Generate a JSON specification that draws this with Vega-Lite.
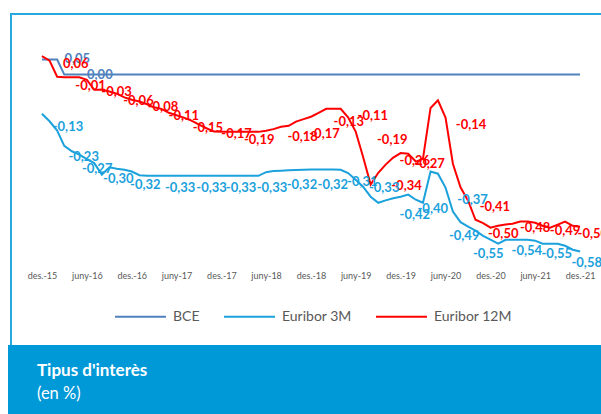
{
  "$schema": "https://vega.github.io/schema/vega-lite/v6.json",
  "padding": {"left": 8, "top": 13, "right": 0, "bottom": 0},
  "spacing": 0,
  "bounds": "flush",
  "config": {
    "font": "Lato",
    "locale": {"number": {"decimal": ",", "thousands": ".", "grouping": [3], "currency": ["", " €"], "minus": "-"}},
    "axis": {"domain": false, "ticks": false, "grid": false, "title": null, "labelFont": "Lato", "labelFontSize": 9, "labelColor": "#595959"},
    "legend": {"orient": "none", "legendX": 103, "legendY": 276, "direction": "horizontal", "symbolType": "stroke", "symbolSize": 2601, "symbolStrokeWidth": 2, "labelFont": "Lato", "labelFontSize": 14, "labelColor": "#595959", "labelOffset": 6, "columnPadding": 20}
  },
  "datasets": {
    "series": [
      {"d": "2015-12-01", "BCE": 0.05, "Euribor 3M": -0.129, "Euribor 12M": 0.061},
      {"d": "2016-01-01", "BCE": 0.05, "Euribor 3M": -0.154, "Euribor 12M": 0.046},
      {"d": "2016-02-01", "BCE": 0.05, "Euribor 3M": -0.185, "Euribor 12M": -0.007},
      {"d": "2016-03-01", "BCE": 0, "Euribor 3M": -0.235, "Euribor 12M": -0.009},
      {"d": "2016-04-01", "BCE": 0, "Euribor 3M": -0.253, "Euribor 12M": -0.009},
      {"d": "2016-05-01", "BCE": 0, "Euribor 3M": -0.264, "Euribor 12M": -0.009},
      {"d": "2016-06-01", "BCE": 0, "Euribor 3M": -0.279, "Euribor 12M": -0.017},
      {"d": "2016-07-01", "BCE": 0, "Euribor 3M": -0.292, "Euribor 12M": -0.05},
      {"d": "2016-08-01", "BCE": 0, "Euribor 3M": -0.33, "Euribor 12M": -0.05},
      {"d": "2016-09-01", "BCE": 0, "Euribor 3M": -0.306, "Euribor 12M": -0.056},
      {"d": "2016-10-01", "BCE": 0, "Euribor 3M": -0.311, "Euribor 12M": -0.063},
      {"d": "2016-11-01", "BCE": 0, "Euribor 3M": -0.314, "Euribor 12M": -0.075},
      {"d": "2016-12-01", "BCE": 0, "Euribor 3M": -0.32, "Euribor 12M": -0.083},
      {"d": "2017-01-01", "BCE": 0, "Euribor 3M": -0.332, "Euribor 12M": -0.089},
      {"d": "2017-02-01", "BCE": 0, "Euribor 3M": -0.334, "Euribor 12M": -0.098},
      {"d": "2017-03-01", "BCE": 0, "Euribor 3M": -0.334, "Euribor 12M": -0.108},
      {"d": "2017-04-01", "BCE": 0, "Euribor 3M": -0.334, "Euribor 12M": -0.113},
      {"d": "2017-05-01", "BCE": 0, "Euribor 3M": -0.334, "Euribor 12M": -0.126},
      {"d": "2017-06-01", "BCE": 0, "Euribor 3M": -0.334, "Euribor 12M": -0.134},
      {"d": "2017-07-01", "BCE": 0, "Euribor 3M": -0.334, "Euribor 12M": -0.142},
      {"d": "2017-08-01", "BCE": 0, "Euribor 3M": -0.334, "Euribor 12M": -0.152},
      {"d": "2017-09-01", "BCE": 0, "Euribor 3M": -0.334, "Euribor 12M": -0.165},
      {"d": "2017-10-01", "BCE": 0, "Euribor 3M": -0.334, "Euribor 12M": -0.177},
      {"d": "2017-11-01", "BCE": 0, "Euribor 3M": -0.334, "Euribor 12M": -0.188},
      {"d": "2017-12-01", "BCE": 0, "Euribor 3M": -0.334, "Euribor 12M": -0.189},
      {"d": "2018-01-01", "BCE": 0, "Euribor 3M": -0.334, "Euribor 12M": -0.189},
      {"d": "2018-02-01", "BCE": 0, "Euribor 3M": -0.334, "Euribor 12M": -0.189},
      {"d": "2018-03-01", "BCE": 0, "Euribor 3M": -0.334, "Euribor 12M": -0.189},
      {"d": "2018-04-01", "BCE": 0, "Euribor 3M": -0.334, "Euribor 12M": -0.189},
      {"d": "2018-05-01", "BCE": 0, "Euribor 3M": -0.334, "Euribor 12M": -0.189},
      {"d": "2018-06-01", "BCE": 0, "Euribor 3M": -0.322, "Euribor 12M": -0.185},
      {"d": "2018-07-01", "BCE": 0, "Euribor 3M": -0.318, "Euribor 12M": -0.18},
      {"d": "2018-08-01", "BCE": 0, "Euribor 3M": -0.317, "Euribor 12M": -0.172},
      {"d": "2018-09-01", "BCE": 0, "Euribor 3M": -0.316, "Euribor 12M": -0.169},
      {"d": "2018-10-01", "BCE": 0, "Euribor 3M": -0.315, "Euribor 12M": -0.155},
      {"d": "2018-11-01", "BCE": 0, "Euribor 3M": -0.314, "Euribor 12M": -0.147},
      {"d": "2018-12-01", "BCE": 0, "Euribor 3M": -0.313, "Euribor 12M": -0.139},
      {"d": "2019-01-01", "BCE": 0, "Euribor 3M": -0.313, "Euribor 12M": -0.126},
      {"d": "2019-02-01", "BCE": 0, "Euribor 3M": -0.313, "Euribor 12M": -0.113},
      {"d": "2019-03-01", "BCE": 0, "Euribor 3M": -0.313, "Euribor 12M": -0.113},
      {"d": "2019-04-01", "BCE": 0, "Euribor 3M": -0.314, "Euribor 12M": -0.113},
      {"d": "2019-05-01", "BCE": 0, "Euribor 3M": -0.325, "Euribor 12M": -0.141},
      {"d": "2019-06-01", "BCE": 0, "Euribor 3M": -0.347, "Euribor 12M": -0.188},
      {"d": "2019-07-01", "BCE": 0, "Euribor 3M": -0.37, "Euribor 12M": -0.271},
      {"d": "2019-08-01", "BCE": 0, "Euribor 3M": -0.403, "Euribor 12M": -0.363},
      {"d": "2019-09-01", "BCE": 0, "Euribor 3M": -0.423, "Euribor 12M": -0.324},
      {"d": "2019-10-01", "BCE": 0, "Euribor 3M": -0.415, "Euribor 12M": -0.297},
      {"d": "2019-11-01", "BCE": 0, "Euribor 3M": -0.408, "Euribor 12M": -0.274},
      {"d": "2019-12-01", "BCE": 0, "Euribor 3M": -0.403, "Euribor 12M": -0.259},
      {"d": "2020-01-01", "BCE": 0, "Euribor 3M": -0.396, "Euribor 12M": -0.261},
      {"d": "2020-02-01", "BCE": 0, "Euribor 3M": -0.413, "Euribor 12M": -0.287},
      {"d": "2020-03-01", "BCE": 0, "Euribor 3M": -0.423, "Euribor 12M": -0.278},
      {"d": "2020-04-01", "BCE": 0, "Euribor 3M": -0.32, "Euribor 12M": -0.11},
      {"d": "2020-05-01", "BCE": 0, "Euribor 3M": -0.327, "Euribor 12M": -0.085},
      {"d": "2020-06-01", "BCE": 0, "Euribor 3M": -0.373, "Euribor 12M": -0.142},
      {"d": "2020-07-01", "BCE": 0, "Euribor 3M": -0.452, "Euribor 12M": -0.294},
      {"d": "2020-08-01", "BCE": 0, "Euribor 3M": -0.487, "Euribor 12M": -0.372},
      {"d": "2020-09-01", "BCE": 0, "Euribor 3M": -0.502, "Euribor 12M": -0.416},
      {"d": "2020-10-01", "BCE": 0, "Euribor 3M": -0.515, "Euribor 12M": -0.479},
      {"d": "2020-11-01", "BCE": 0, "Euribor 3M": -0.532, "Euribor 12M": -0.49},
      {"d": "2020-12-01", "BCE": 0, "Euribor 3M": -0.545, "Euribor 12M": -0.505},
      {"d": "2021-01-01", "BCE": 0, "Euribor 3M": -0.558, "Euribor 12M": -0.499},
      {"d": "2021-02-01", "BCE": 0, "Euribor 3M": -0.545, "Euribor 12M": -0.495},
      {"d": "2021-03-01", "BCE": 0, "Euribor 3M": -0.545, "Euribor 12M": -0.492},
      {"d": "2021-04-01", "BCE": 0, "Euribor 3M": -0.545, "Euribor 12M": -0.485},
      {"d": "2021-05-01", "BCE": 0, "Euribor 3M": -0.545, "Euribor 12M": -0.485},
      {"d": "2021-06-01", "BCE": 0, "Euribor 3M": -0.548, "Euribor 12M": -0.489},
      {"d": "2021-07-01", "BCE": 0, "Euribor 3M": -0.558, "Euribor 12M": -0.499},
      {"d": "2021-08-01", "BCE": 0, "Euribor 3M": -0.558, "Euribor 12M": -0.505},
      {"d": "2021-09-01", "BCE": 0, "Euribor 3M": -0.558, "Euribor 12M": -0.495},
      {"d": "2021-10-01", "BCE": 0, "Euribor 3M": -0.565, "Euribor 12M": -0.485},
      {"d": "2021-11-01", "BCE": 0, "Euribor 3M": -0.578, "Euribor 12M": -0.499},
      {"d": "2021-12-01", "BCE": 0, "Euribor 3M": -0.584, "Euribor 12M": -0.502}
    ],
    "labels": [
      {"d": "2016-04-23", "s": "BCE", "v": 0.05},
      {"d": "2016-07-24", "s": "BCE", "v": 0.0},
      {"d": "2016-04-17", "s": "Euribor 12M", "v": 0.06},
      {"d": "2016-06-16", "s": "Euribor 12M", "v": -0.01},
      {"d": "2016-09-30", "s": "Euribor 12M", "v": -0.03},
      {"d": "2016-12-28", "s": "Euribor 12M", "v": -0.06},
      {"d": "2017-04-07", "s": "Euribor 12M", "v": -0.08},
      {"d": "2017-07-01", "s": "Euribor 12M", "v": -0.11},
      {"d": "2017-10-07", "s": "Euribor 12M", "v": -0.15},
      {"d": "2018-02-01", "s": "Euribor 12M", "v": -0.17},
      {"d": "2018-05-04", "s": "Euribor 12M", "v": -0.19},
      {"d": "2018-10-28", "s": "Euribor 12M", "v": -0.18},
      {"d": "2019-01-25", "s": "Euribor 12M", "v": -0.17},
      {"d": "2019-05-04", "s": "Euribor 12M", "v": -0.13},
      {"d": "2019-08-10", "s": "Euribor 12M", "v": -0.11},
      {"d": "2019-10-28", "s": "Euribor 12M", "v": -0.19},
      {"d": "2020-01-28", "s": "Euribor 12M", "v": -0.26},
      {"d": "2020-03-28", "s": "Euribor 12M", "v": -0.27},
      {"d": "2019-12-25", "s": "Euribor 12M", "v": -0.34},
      {"d": "2020-09-13", "s": "Euribor 12M", "v": -0.14},
      {"d": "2020-12-19", "s": "Euribor 12M", "v": -0.41},
      {"d": "2021-01-22", "s": "Euribor 12M", "v": -0.5},
      {"d": "2021-06-01", "s": "Euribor 12M", "v": -0.48},
      {"d": "2021-10-01", "s": "Euribor 12M", "v": -0.49},
      {"d": "2022-01-22", "s": "Euribor 12M", "v": -0.5},
      {"d": "2016-03-16", "s": "Euribor 3M", "v": -0.13},
      {"d": "2016-05-19", "s": "Euribor 3M", "v": -0.23},
      {"d": "2016-07-13", "s": "Euribor 3M", "v": -0.27},
      {"d": "2016-10-07", "s": "Euribor 3M", "v": -0.3},
      {"d": "2017-01-25", "s": "Euribor 3M", "v": -0.32},
      {"d": "2017-06-16", "s": "Euribor 3M", "v": -0.33},
      {"d": "2017-10-22", "s": "Euribor 3M", "v": -0.33},
      {"d": "2018-02-19", "s": "Euribor 3M", "v": -0.33},
      {"d": "2018-06-25", "s": "Euribor 3M", "v": -0.33},
      {"d": "2018-10-25", "s": "Euribor 3M", "v": -0.32},
      {"d": "2019-02-28", "s": "Euribor 3M", "v": -0.32},
      {"d": "2019-06-28", "s": "Euribor 3M", "v": -0.31},
      {"d": "2019-09-25", "s": "Euribor 3M", "v": -0.33},
      {"d": "2020-01-28", "s": "Euribor 3M", "v": -0.42},
      {"d": "2020-04-10", "s": "Euribor 3M", "v": -0.4},
      {"d": "2020-09-19", "s": "Euribor 3M", "v": -0.37},
      {"d": "2020-08-16", "s": "Euribor 3M", "v": -0.49},
      {"d": "2020-11-22", "s": "Euribor 3M", "v": -0.55},
      {"d": "2021-04-28", "s": "Euribor 3M", "v": -0.54},
      {"d": "2021-08-28", "s": "Euribor 3M", "v": -0.55},
      {"d": "2021-12-28", "s": "Euribor 3M", "v": -0.58}
    ]
  },
  "vconcat": [
    {
      "width": 600,
      "height": 334,
      "view": {"stroke": "#29A8E0", "strokeWidth": 2},
      "encoding": {
        "x": {
          "field": "d", "type": "temporal",
          "scale": {"type": "utc", "domain": [{"year": 2015, "month": 7, "date": 28, "utc": true}, {"year": 2022, "month": 4, "date": 6, "utc": true}]},
          "axis": {
            "offset": -77, "labelPadding": 0, "labelOverlap": false,
            "values": [
              {"year": 2015, "month": 12, "date": 1, "utc": true},
              {"year": 2016, "month": 6, "date": 1, "utc": true},
              {"year": 2016, "month": 12, "date": 1, "utc": true},
              {"year": 2017, "month": 6, "date": 1, "utc": true},
              {"year": 2017, "month": 12, "date": 1, "utc": true},
              {"year": 2018, "month": 6, "date": 1, "utc": true},
              {"year": 2018, "month": 12, "date": 1, "utc": true},
              {"year": 2019, "month": 6, "date": 1, "utc": true},
              {"year": 2019, "month": 12, "date": 1, "utc": true},
              {"year": 2020, "month": 6, "date": 1, "utc": true},
              {"year": 2020, "month": 12, "date": 1, "utc": true},
              {"year": 2021, "month": 6, "date": 1, "utc": true},
              {"year": 2021, "month": 12, "date": 1, "utc": true}
            ],
            "labelExpr": "(utcmonth(datum.value) == 11 ? 'des.-' : 'juny-') + utcFormat(datum.value, '%y')"
          }
        },
        "y": {"field": "v", "type": "quantitative", "scale": {"domain": [-0.9023, 0.2], "nice": false, "zero": false}, "axis": null},
        "color": {
          "field": "s", "type": "nominal",
          "scale": {"domain": ["BCE", "Euribor 3M", "Euribor 12M"], "range": ["#4F81BD", "#1BA1DC", "#FF0000"]},
          "legend": {"title": null}
        }
      },
      "layer": [
        {
          "data": {"name": "series"},
          "transform": [{"fold": ["BCE", "Euribor 3M", "Euribor 12M"], "as": ["s", "v"]}],
          "mark": {"type": "line", "strokeWidth": 2}
        },
        {
          "data": {"name": "labels"},
          "transform": [{"filter": "datum.s == 'BCE'"}],
          "mark": {"type": "text", "fontWeight": "bold", "fontSize": 13, "dy": 0},
          "encoding": {"text": {"field": "v", "type": "quantitative", "format": ".2f"}}
        },
        {
          "data": {"name": "labels"},
          "transform": [{"filter": "datum.s == 'Euribor 12M'"}],
          "mark": {"type": "text", "fontWeight": "bold", "fontSize": 13, "dy": 8},
          "encoding": {"text": {"field": "v", "type": "quantitative", "format": ".2f"}}
        },
        {
          "data": {"name": "labels"},
          "transform": [{"filter": "datum.s == 'Euribor 3M'"}],
          "mark": {"type": "text", "fontWeight": "bold", "fontSize": 13, "dy": 13},
          "encoding": {"text": {"field": "v", "type": "quantitative", "format": ".2f"}}
        }
      ]
    },
    {
      "width": 600,
      "height": 66,
      "view": {"fill": "#0099D8", "stroke": "#0099D8", "strokeWidth": 6},
      "title": {
        "text": "Tipus d'interès", "subtitle": "(en %)",
        "anchor": "start", "orient": "top", "frame": "group", "offset": -55, "dx": 26,
        "color": "white", "subtitleColor": "white", "font": "Lato", "subtitleFont": "Lato",
        "fontSize": 17, "subtitleFontSize": 16.5, "fontWeight": "bold", "subtitleFontWeight": "normal", "subtitlePadding": 6
      },
      "data": {"values": []},
      "mark": "text"
    }
  ]
}
